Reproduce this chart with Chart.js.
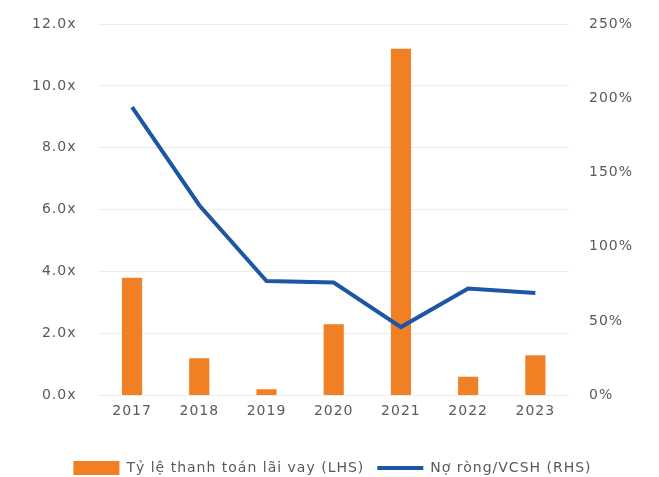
<!DOCTYPE html>
<html>
<head>
<meta charset="utf-8">
<script src="https://cdn.jsdelivr.net/npm/chart.js"></script>
<style>
  html, body { margin: 0; padding: 0; background: #fff; }
  #wrap { width: 659px; height: 477px; }
</style>
</head>
<body>
<div id="wrap"><canvas id="chart" width="659" height="477"></canvas></div>
<script>
// Interest coverage (LHS, times) vs net debt / equity (RHS, %)
const years = ["2017", "2018", "2019", "2020", "2021", "2022", "2023"];
const interestCoverage = [3.8, 1.2, 0.2, 2.3, 11.2, 0.6, 1.3];
const netDebtToEquity = [194, 128, 77, 76, 46, 72, 69];

const leftTicks = [0, 2, 4, 6, 8, 10, 12];
const rightTicks = [0, 50, 100, 150, 200, 250];

const orange = "#f17f24";
const blue = "#1d56a5";
const textGrey = "#5a5a5a";

Chart.defaults.font.family = "'DejaVu Sans', sans-serif";
Chart.defaults.font.size = 14;
Chart.defaults.color = textGrey;

// wider letter spacing for all canvas text (canvas resizes reset it, so set it
// before measuring and before painting), plus a tighter legend box
const textTweaks = {
  id: "textTweaks",
  beforeInit(chart) {
    const fit = chart.legend.fit;
    chart.legend.fit = function () {
      fit.call(this);
      this.height -= 8;
    };
  },
  beforeLayout(chart) {
    chart.ctx.letterSpacing = "1px";
  },
  beforeDraw(chart) {
    chart.ctx.letterSpacing = "1px";
  }
};

new Chart(document.getElementById("chart"), {
  type: "bar",
  data: {
    labels: years,
    datasets: [
      {
        type: "line",
        label: "Nợ ròng/VCSH (RHS)",
        data: netDebtToEquity,
        yAxisID: "y1",
        borderColor: blue,
        backgroundColor: blue,
        borderWidth: 4,
        pointRadius: 0,
        tension: 0,
        pointStyle: "line",
        order: 0
      },
      {
        label: "Tỷ lệ thanh toán lãi vay (LHS)",
        data: interestCoverage,
        yAxisID: "y",
        backgroundColor: orange,
        borderWidth: 0,
        barPercentage: 0.3,
        categoryPercentage: 1,
        pointStyle: "rect",
        order: 1
      }
    ]
  },
  plugins: [textTweaks],
  options: {
    responsive: false,
    animation: false,
    layout: { padding: { left: 20, right: 14, top: 24, bottom: 0 } },
    plugins: {
      tooltip: { enabled: false },
      legend: {
        position: "bottom",
        reverse: true,
        labels: {
          usePointStyle: true,
          pointStyleWidth: 46,
          boxHeight: 14,
          padding: 13,
          font: { size: 14 },
          color: textGrey
        }
      }
    },
    scales: {
      x: {
        grid: { display: false, tickLength: 8 },
        border: { display: false },
        ticks: { padding: 0, font: { size: 14 } },
        title: {
          display: true,
          text: " ",
          color: "rgba(0,0,0,0)",
          padding: { top: 4, bottom: 7 }
        }
      },
      y: {
        position: "left",
        min: 0,
        max: 12,
        afterBuildTicks: (axis) => { axis.ticks = leftTicks.map(v => ({ value: v })); },
        grid: { color: "#ececec", lineWidth: 1, tickLength: 10, tickColor: "rgba(0,0,0,0)" },
        border: { display: false },
        ticks: {
          padding: 12,
          callback: (v) => v.toFixed(1) + "x"
        }
      },
      y1: {
        position: "right",
        min: 0,
        max: 250,
        afterBuildTicks: (axis) => { axis.ticks = rightTicks.map(v => ({ value: v })); },
        grid: { drawOnChartArea: false, tickLength: 8, tickColor: "rgba(0,0,0,0)" },
        border: { display: false },
        ticks: {
          padding: 12,
          callback: (v) => v + "%"
        }
      }
    }
  }
});
</script>
</body>
</html>
